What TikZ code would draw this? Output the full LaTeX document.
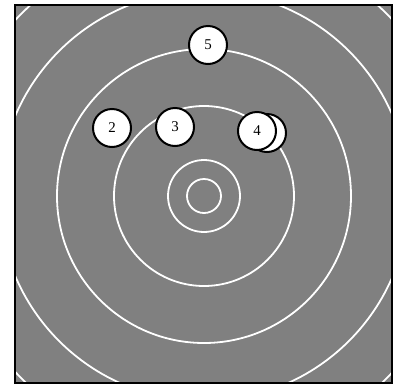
\documentclass[tikz,border=0pt]{standalone}
\usepackage{fontspec}
\setmainfont{Liberation Serif}
\begin{document}
\begin{tikzpicture}[x=1bp,y=-1bp,
  bgfill/.style={fill=black!50},
  ring/.style={draw=white,line width=1.8bp},
  frameline/.style={draw=black,line width=1.5bp},
  disk/.style={circle,draw=black,fill=white,line width=2bp,minimum size=38bp,inner sep=0pt,font=\fontsize{15}{17}\selectfont}]
\useasboundingbox (0,0) rectangle (396,386);
\coordinate (c) at (204,196);
\begin{scope}
  \clip (15,5) rectangle (392,383);
  \fill[bgfill] (15,5) rectangle (392,383);
  \foreach \r in {17,36,90,147,205,258} \draw[ring] (c) circle[radius=\r bp];
\end{scope}
\draw[frameline] (15,5) rectangle (392,383);
\node[disk] (n5) at (208,45) {5};
\node[disk] (n2) at (112,128) {2};
\node[disk] (n3) at (175,127) {3};
\node[disk] (n4b) at (267,133) {};
\node[disk] (n4) at (257,131) {4};
\end{tikzpicture}
\end{document}
